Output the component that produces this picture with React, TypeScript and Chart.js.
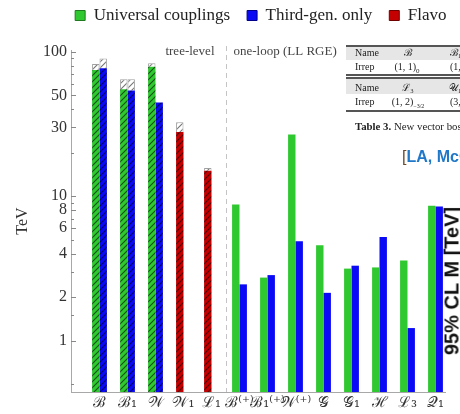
import React, { useEffect, useMemo, useRef } from 'react';
import { Chart, registerables } from 'chart.js';

Chart.register(...registerables);

// Model labels (calligraphic names, tree-level models first)
const categories = ['ℬ', 'ℬ₁', '𝒲', '𝒲₁', 'ℒ₁', 'ℬ⁽⁺⁾', 'ℬ₁⁽⁺⁾', '𝒲⁽⁺⁾', '𝒢', '𝒢₁', 'ℋ', 'ℒ₃', '𝒬₁'];
const treeLevelCount = 5;

// 95% CL mass reach in TeV
const universal = [75, 55, 79, null, null, 8.75, 2.73, 26.8, 4.57, 3.15, 3.21, 3.59, 8.6];
const universalUpper = [82.5, 64.6, 83.5, null, null, null, null, null, null, null, null, null, null];
const thirdGen = [77, 54, 44.5, null, null, 2.45, 2.84, 4.87, 2.14, 3.3, 5.22, 1.22, 8.5];
const thirdGenUpper = [90, 64.6, null, null, null, null, null, null, null, null, null, null, null];
const flavour = [null, null, null, 27.8, 15, null, null, null, null, null, null, null, null];
const flavourUpper = [null, null, null, 32.5, 15.7, null, null, null, null, null, null, null, null];

const seriesLabels = ['Universal couplings', 'Third-gen. only', 'Flavour-specific'];
const seriesColors = ['#30c830', '#0a0af5', '#c40000'];
const seriesEdges = ['#1f7a1f', '#00008a', '#6e0000'];

// Log axis ticks
const labelledTicks = [1, 2, 4, 6, 8, 10, 30, 50, 100];
const minorTicks = [0.5, 1.5, 3, 5, 7, 9, 20, 40, 60, 70, 80, 90];
const yMin = 0.44;
const yMax = 103;

const SERIF = '"Liberation Serif", "Times New Roman", serif';
const LEGEND_SIZE = 17;
const LEGEND_PAD = 17;
const LEGEND_BOX = 10;
const LEGEND_START = 75;
const AXIS_LEFT = 71;
const CATEGORY_STEP = 28;
const FIRST_CENTER = 99.5;
const HEIGHT = 414;

type V = number | null;

function points(values: V[]) {
  return values
    .map((v, i) => (v == null ? null : { x: i, y: v }))
    .filter((p) => p !== null) as { x: number; y: number }[];
}

function ranges(lo: V[], hi: V[]) {
  return hi
    .map((v, i) => (v == null || lo[i] == null ? null : { x: i, y: [lo[i] as number, v] }))
    .filter((p) => p !== null) as { x: number; y: number[] }[];
}

function hatch(fill: string, line: string): CanvasPattern | string {
  const c = document.createElement('canvas');
  c.width = 6;
  c.height = 6;
  const g = c.getContext('2d');
  if (!g) return fill;
  g.fillStyle = fill;
  g.fillRect(0, 0, 6, 6);
  g.strokeStyle = line;
  g.lineWidth = 1.1;
  g.beginPath();
  g.moveTo(-1, 7);
  g.lineTo(7, -1);
  g.moveTo(-1, 1);
  g.lineTo(1, -1);
  g.moveTo(5, 7);
  g.lineTo(7, 5);
  g.stroke();
  return g.createPattern(c, 'repeat') || fill;
}

function legendWidth(): number {
  const c = document.createElement('canvas');
  const g = c.getContext('2d');
  let total = 0;
  for (const t of seriesLabels) {
    let w = t.length * 8;
    if (g) {
      g.font = `normal ${LEGEND_SIZE}px ${SERIF}`;
      w = g.measureText(t).width;
    }
    total += LEGEND_BOX + LEGEND_SIZE / 2 + w + LEGEND_PAD;
  }
  return total;
}

const decorations = {
  id: 'decorations',
  afterDraw(chart: any) {
    const { ctx, chartArea, scales } = chart;
    const x = scales.x;
    const y = scales.y;
    ctx.save();
    // tick marks on the inner side of the value axis
    ctx.strokeStyle = '#888';
    ctx.lineWidth = 1;
    const mark = (v: number, len: number) => {
      const py = Math.round(y.getPixelForValue(v)) + 0.5;
      ctx.beginPath();
      ctx.moveTo(chartArea.left, py);
      ctx.lineTo(chartArea.left + len, py);
      ctx.stroke();
    };
    labelledTicks.forEach((v) => mark(v, 5));
    minorTicks.forEach((v) => mark(v, 3));

    // tree-level / one-loop separator
    const sx = Math.round(x.getPixelForValue(treeLevelCount - 0.5)) + 0.5;
    ctx.strokeStyle = '#c4c4c4';
    ctx.setLineDash([5, 4]);
    ctx.beginPath();
    ctx.moveTo(sx, chartArea.top - 4);
    ctx.lineTo(sx, chartArea.bottom);
    ctx.stroke();
    ctx.setLineDash([]);

    ctx.font = `13px ${SERIF}`;
    ctx.fillStyle = '#444';
    ctx.textBaseline = 'middle';
    ctx.textAlign = 'right';
    ctx.fillText('tree-level', sx - 12, chartArea.top + 2);
    ctx.textAlign = 'left';
    ctx.fillText('one-loop (LL RGE)', sx + 7, chartArea.top + 2);
    ctx.restore();
  },
};

export default function App() {
  const canvasRef = useRef<HTMLCanvasElement>(null);
  const width = useMemo(() => Math.round(2 * LEGEND_START - LEGEND_PAD + legendWidth()), []);

  useEffect(() => {
    const canvas = canvasRef.current;
    if (!canvas) return;

    const greenHatch = hatch(seriesColors[0], 'rgba(0,0,0,0.6)');
    const blueHatch = hatch(seriesColors[1], 'rgba(0,0,0,0.6)');
    const redHatch = hatch(seriesColors[2], 'rgba(0,0,0,0.6)');
    const whiteHatch = hatch('#ffffff', 'rgba(0,0,0,0.55)');

    const treeOrSolid = (pattern: any, solid: string) => (c: any) =>
      c.raw && c.raw.x < treeLevelCount ? pattern : solid;

    const xMin = -(FIRST_CENTER - AXIS_LEFT) / CATEGORY_STEP;
    const xMax = xMin + (width - AXIS_LEFT) / CATEGORY_STEP;

    const upperStyle = {
      backgroundColor: whiteHatch,
      borderColor: '#a0a0a0',
      borderWidth: 1,
    };

    const chart = new Chart(canvas, {
      type: 'bar',
      data: {
        datasets: [
          {
            label: seriesLabels[0],
            data: points(universal),
            stack: 'universal',
            backgroundColor: treeOrSolid(greenHatch, seriesColors[0]),
            xAxisID: 'x',
            yAxisID: 'y',
          },
          {
            label: seriesLabels[1],
            data: points(thirdGen),
            stack: 'third',
            backgroundColor: treeOrSolid(blueHatch, seriesColors[1]),
            xAxisID: 'x',
            yAxisID: 'y',
          },
          {
            label: seriesLabels[2],
            data: points(flavour),
            stack: 'universal',
            backgroundColor: treeOrSolid(redHatch, seriesColors[2]),
            xAxisID: 'x',
            yAxisID: 'y',
          },
          {
            label: 'universal range',
            data: ranges(universal, universalUpper),
            stack: 'universal',
            ...upperStyle,
            xAxisID: 'x',
            yAxisID: 'y',
          },
          {
            label: 'third range',
            data: ranges(thirdGen, thirdGenUpper),
            stack: 'third',
            ...upperStyle,
            xAxisID: 'x',
            yAxisID: 'y',
          },
          {
            label: 'flavour range',
            data: ranges(flavour, flavourUpper),
            stack: 'universal',
            ...upperStyle,
            xAxisID: 'x',
            yAxisID: 'y',
          },
        ] as any,
      },
      options: {
        animation: false,
        responsive: false,
        devicePixelRatio: 1,
        layout: { padding: { top: -10, left: 0, right: 0, bottom: 0 } },
        datasets: {
          bar: { categoryPercentage: 0.53, barPercentage: 1 },
        } as any,
        plugins: {
          tooltip: { enabled: false },
          legend: {
            position: 'top',
            align: 'center',
            labels: {
              boxWidth: LEGEND_BOX,
              boxHeight: LEGEND_BOX,
              padding: LEGEND_PAD,
              color: '#222',
              font: { family: SERIF, size: LEGEND_SIZE },
              generateLabels: () =>
                seriesLabels.map((text, i) => ({
                  text,
                  fillStyle: seriesColors[i],
                  strokeStyle: seriesEdges[i],
                  lineWidth: 1,
                  hidden: false,
                  datasetIndex: i,
                  fontColor: '#222',
                })),
            },
          },
        },
        scales: {
          x: {
            type: 'linear',
            position: 'bottom',
            offset: false,
            bounds: 'data',
            min: xMin,
            max: xMax,
            afterBuildTicks: (s: any) => {
              s.ticks = categories.map((_, i) => ({ value: i }));
              s.min = xMin;
              s.max = xMax;
            },
            afterFit: (s: any) => {
              s.height = 22;
            },
            ticks: {
              autoSkip: false,
              maxRotation: 0,
              minRotation: 0,
              padding: 2,
              color: '#333',
              font: { family: '"DejaVu Serif", serif', size: 15 },
              callback: (v: any) => categories[v as number] ?? '',
            },
            grid: { display: false, drawTicks: false, offset: false },
            border: { display: true, color: '#a8a8a8' },
          },
          spacer: {
            type: 'linear',
            axis: 'x',
            position: 'top',
            display: true,
            offset: false,
            afterFit: (s: any) => {
              s.height = 16;
            },
            ticks: { display: false },
            grid: { display: false, drawTicks: false },
            border: { display: false },
          },
          y: {
            type: 'logarithmic',
            position: 'left',
            bounds: 'data',
            min: yMin,
            max: yMax,
            stacked: false,
            afterBuildTicks: (s: any) => {
              s.ticks = labelledTicks.map((v) => ({ value: v }));
              s.min = yMin;
              s.max = yMax;
            },
            afterFit: (s: any) => {
              s.width = AXIS_LEFT;
            },
            ticks: {
              autoSkip: false,
              padding: 4,
              color: '#333',
              font: { family: SERIF, size: 16 },
              callback: (v: any) => String(v),
            },
            title: {
              display: true,
              text: 'TeV',
              color: '#333',
              font: { family: SERIF, size: 16 },
              padding: { top: 13, bottom: 0 },
            },
            grid: { display: false, drawTicks: false },
            border: { display: true, color: '#a8a8a8' },
          },
        } as any,
      },
      plugins: [decorations],
    });

    return () => chart.destroy();
  }, [width]);

  const tableText: React.CSSProperties = {
    position: 'absolute',
    fontFamily: SERIF,
    fontSize: 10,
    color: '#222',
    whiteSpace: 'nowrap',
    lineHeight: '12px',
  };
  const rule = (top: number, h: number): React.CSSProperties => ({
    position: 'absolute',
    left: 346,
    top,
    width: 120,
    height: h,
    background: '#555',
  });
  const centred = (left: number, top: number): React.CSSProperties => ({
    ...tableText,
    left,
    top,
    transform: 'translateX(-50%)',
  });

  return (
    <div
      style={{
        position: 'absolute',
        left: 0,
        top: 0,
        width: 460,
        height: HEIGHT,
        overflow: 'hidden',
        background: '#fff',
      }}
    >
      <div style={{ position: 'absolute', left: 0, top: 0, width: 446, height: HEIGHT, overflow: 'hidden' }}>
        <canvas ref={canvasRef} width={width} height={HEIGHT} style={{ display: 'block', width, height: HEIGHT }} />
      </div>

      {/* representation table */}
      <div style={{ position: 'absolute', left: 346, top: 47, width: 120, height: 13, background: '#e6e6e6' }} />
      <div style={{ position: 'absolute', left: 346, top: 79, width: 120, height: 15, background: '#e6e6e6' }} />
      <div style={rule(45, 2)} />
      <div style={rule(74, 1.5)} />
      <div style={rule(77, 1.5)} />
      <div style={rule(110, 1.5)} />

      <div style={{ ...tableText, left: 355, top: 47 }}>Name</div>
      <div style={centred(408, 47)}>ℬ</div>
      <div style={{ ...tableText, left: 450, top: 47 }}>ℬ₁</div>
      <div style={{ ...tableText, left: 355, top: 61 }}>Irrep</div>
      <div style={centred(407, 61)}>
        (1, 1)<sub style={{ fontSize: 7 }}>0</sub>
      </div>
      <div style={{ ...tableText, left: 450, top: 61 }}>
        (1, 1)<sub style={{ fontSize: 7 }}>0</sub>
      </div>

      <div style={{ ...tableText, left: 355, top: 82 }}>Name</div>
      <div style={centred(408, 82)}>ℒ₃</div>
      <div style={{ ...tableText, left: 449, top: 82 }}>𝒰₁</div>
      <div style={{ ...tableText, left: 355, top: 96 }}>Irrep</div>
      <div style={centred(408, 96)}>
        (1, 2)<sub style={{ fontSize: 6 }}>−3/2</sub>
      </div>
      <div style={{ ...tableText, left: 450, top: 96 }}>
        (3, 1)<sub style={{ fontSize: 7 }}>2/3</sub>
      </div>

      <div style={{ ...tableText, left: 355, top: 120, fontSize: 10.8 }}>
        <b>Table 3.</b> New vector bosons.
      </div>

      <div
        style={{
          position: 'absolute',
          left: 402,
          top: 148,
          whiteSpace: 'nowrap',
          fontFamily: '"Liberation Sans", Arial, sans-serif',
          fontWeight: 'bold',
          fontSize: 16,
          lineHeight: '18px',
          color: '#1f78c8',
        }}
      >
        <span style={{ color: '#6b4a2a', fontWeight: 'normal' }}>[</span>LA, McCullough, Renner]
      </div>

      <div
        style={{
          position: 'absolute',
          left: 452,
          top: 281,
          transform: 'translate(-50%, -50%) rotate(-90deg)',
          whiteSpace: 'nowrap',
          fontFamily: '"Liberation Sans", Arial, sans-serif',
          fontWeight: 'bold',
          fontSize: 20,
          lineHeight: '15px',
          color: '#111',
        }}
      >
        95% CL M [TeV]
      </div>
    </div>
  );
}
